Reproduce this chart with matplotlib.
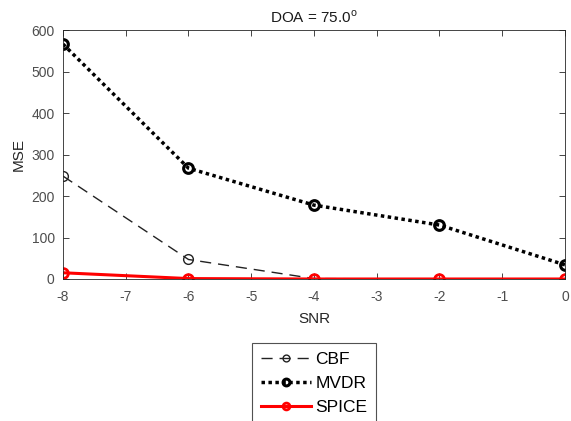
import numpy as np
import matplotlib
matplotlib.use('Agg')
import matplotlib.pyplot as plt

plt.rcParams['font.family'] = ['Liberation Sans', 'DejaVu Sans']
plt.rcParams['axes.unicode_minus'] = False

# Data
snr = [-8, -6, -4, -2, 0]
mse_cbf = [248, 47, 1, 0, 0]
mse_mvdr = [566, 267, 178, 130, 34]
mse_spice = [15, 1, 0, 0, 0]

title_text = 'DOA = 75.0$^{\\mathregular{o}}$'

fig = plt.figure(figsize=(5.71, 4.21), dpi=100)
ax = fig.add_axes([0.1103, 0.3373, 0.8792, 0.5914])

ax.plot(snr, mse_cbf, linestyle=(0, (8, 5)), color='#222222', linewidth=1.0,
        marker='o', markersize=7, markerfacecolor='none', markeredgewidth=1.0,
        label='CBF')
ax.plot(snr, mse_mvdr, linestyle=(0, (1, 1)), color='black', linewidth=2.5,
        marker='o', markersize=7, markerfacecolor='none', markeredgewidth=2.2,
        label='MVDR')
ax.plot(snr, mse_spice, linestyle='-', color='red', linewidth=2.2,
        marker='o', markersize=7, markerfacecolor='none', markeredgewidth=2.0,
        label='SPICE')

ax.set_xlim(-8, 0)
ax.set_ylim(0, 600)
ax.set_xticks(np.arange(-8, 1, 1))
ax.set_yticks(np.arange(0, 601, 100))
ax.tick_params(direction='in', top=True, right=True, labelsize=10,
               colors='#262626', labelcolor='#4d4d4d', length=4, width=0.6)
ax.tick_params(axis='x', pad=8)
ax.tick_params(axis='y', pad=6)
for s in ax.spines.values():
    s.set_linewidth(0.6)
    s.set_color('#262626')

ax.set_xlabel('SNR', fontsize=11, color='#262626', labelpad=6)
ax.set_ylabel('MSE', fontsize=11, color='#262626', labelpad=4)
ax.set_title(title_text, fontsize=11, color='#1a1a1a', pad=5)

leg = ax.legend(loc='upper center', bbox_to_anchor=(0.5, -0.259), fontsize=12.5,
                frameon=True, fancybox=False, handlelength=2.9,
                borderpad=0.5, labelspacing=0.5, handletextpad=0.25,
                borderaxespad=0, markerscale=0.7)
leg.get_frame().set_edgecolor('#262626')
leg.get_frame().set_linewidth(0.8)

fig.savefig('out.png', dpi=100, facecolor='white')
plt.close(fig)
